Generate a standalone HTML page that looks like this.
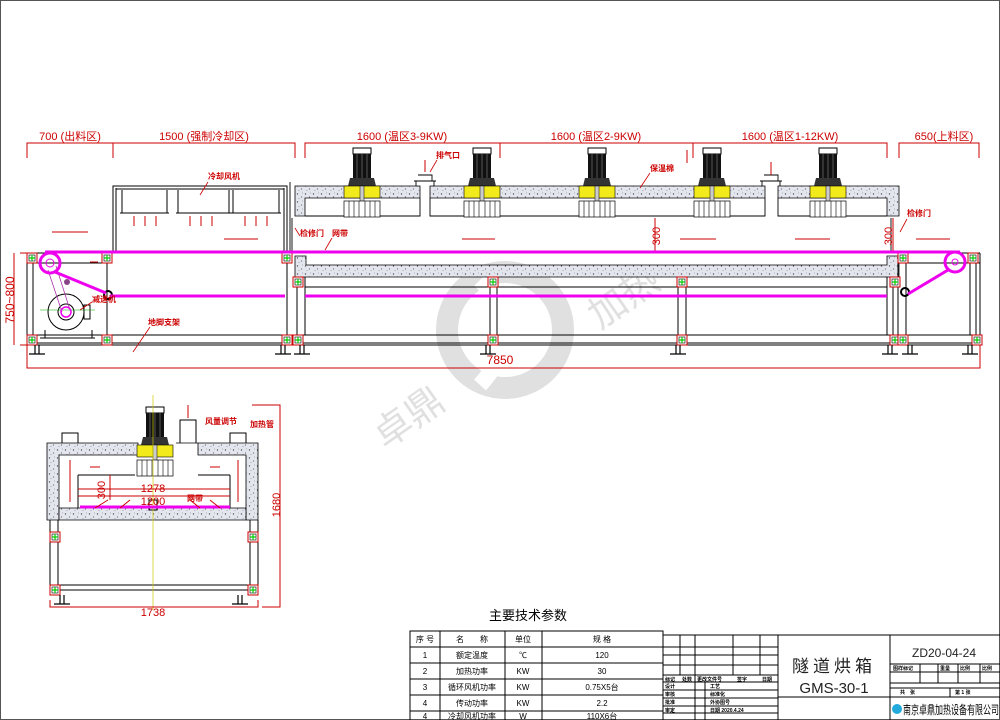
<!DOCTYPE html>
<html><head><meta charset="utf-8"><style>
html,body{margin:0;padding:0;background:#fff;}
svg{display:block;}
text{font-family:"Liberation Sans","Noto Sans CJK SC",sans-serif;}
</style></head><body>
<svg width="1000" height="720" viewBox="0 0 1000 720" xmlns="http://www.w3.org/2000/svg">
<defs>
<pattern id="ins" width="8" height="8" patternUnits="userSpaceOnUse">
<rect width="8" height="8" fill="#e4e6ee"/>
<circle cx="1.5" cy="2" r="0.7" fill="#556"/><circle cx="5.5" cy="5" r="0.6" fill="#667"/><circle cx="3" cy="6.5" r="0.5" fill="#88a"/><circle cx="6.5" cy="1" r="0.5" fill="#99a"/>
</pattern>
<g id="gsq"><rect x="-5" y="-5" width="10" height="10" fill="#fff" stroke="#c00" stroke-width="1"/><rect x="-3" y="-3" width="6" height="6" fill="none" stroke="#000" stroke-width="0.6"/><path d="M-3 0H3M0 -3V3" stroke="#0c0" stroke-width="1.2"/></g>
<g id="fan">
<rect x="-9" y="-38" width="18" height="6" fill="#fff" stroke="#000"/>
<rect x="-9" y="-32" width="18" height="24" fill="#111"/>
<path d="M-5 -32V-8M0 -32V-8M5 -32V-8" stroke="#888" stroke-width="0.6"/>
<path d="M-12 -8H12L14 0H-14Z" fill="#333"/>
<rect x="-18" y="0" width="36" height="12" fill="#f2ea1a" stroke="#000" stroke-width="0.6"/>
<rect x="-2" y="0" width="4" height="16" fill="#ccc" stroke="#000" stroke-width="0.5"/>
<rect x="-18" y="15" width="36" height="16" fill="#fff" stroke="#000" stroke-width="0.7"/>
<path d="M-13 15V31M-8 15V31M-3 15V31M3 15V31M8 15V31M13 15V31" stroke="#000" stroke-width="0.6"/>
</g>
<g id="foot"><path d="M-2 0V9M2 0V9M-8 9H8" stroke="#000" stroke-width="1.2" fill="none"/></g>
</defs>
<rect x="0.5" y="0.5" width="999" height="719" fill="#fff" stroke="#555"/>

<!-- watermark -->
<g opacity="0.22">
<circle cx="505" cy="330" r="58" fill="none" stroke="#777" stroke-width="22"/>
<path d="M480 280 Q530 330 480 385" stroke="#fff" stroke-width="16" fill="none"/>
<text x="600" y="330" font-size="38" fill="#777" transform="rotate(-35 600 330)">加热</text>
<text x="385" y="450" font-size="38" fill="#777" transform="rotate(-35 385 450)">卓鼎</text>
</g>

<!-- top dimensions -->
<g stroke="#c00" stroke-width="1" fill="none">
<path d="M27 158V143H295V158M113 143V158M305 158V143H887V158M500 143V158M693 143V158M899 158V143H979V158"/>
</g>
<g fill="#c00" font-size="11" text-anchor="middle">
<text x="70" y="140">700 (出料区)</text>
<text x="204" y="140">1500 (强制冷却区)</text>
<text x="402" y="140">1600 (温区3-9KW)</text>
<text x="596" y="140">1600 (温区2-9KW)</text>
<text x="790" y="140">1600 (温区1-12KW)</text>
<text x="944" y="140">650(上料区)</text>
</g>

<!-- cooling section -->
<g stroke="#000" stroke-width="1" fill="none">
<rect x="113" y="186" width="174" height="66"/>
<path d="M116 188V252M284 188V252M116 189H284"/>
<path d="M122 190V213H167V190M178 190V213H229V190M233 190V213H279V190M120 213H169M176 213H231M231 213H281"/>
</g>
<g stroke="#c00" stroke-width="1">
<path d="M134 216V226M145 216V226M156 216V226M190 216V226M201 216V226M212 216V226M245 216V226M256 216V226M267 216V226"/>
<path d="M52 232H88M224 239H258M462 239H495M680 239H716M795 239H830M916 239H950M90 262H98"/>
</g>

<!-- oven insulation -->
<path d="M295 186H420V198H305V216H295Z" fill="url(#ins)" stroke="#000" stroke-width="0.8"/>
<path d="M430 186H765V198H430Z" fill="url(#ins)" stroke="#000" stroke-width="0.8"/>
<path d="M778 186H899V216H887V198H778Z" fill="url(#ins)" stroke="#000" stroke-width="0.8"/>
<path d="M295 256H306V265H887V256H899V277H295Z" fill="url(#ins)" stroke="#000" stroke-width="0.8"/>
<g stroke="#000" fill="none" stroke-width="0.9">
<path d="M305 216H420V198M430 198V216H765V198M778 198V216H887"/>
<path d="M292 218V262M290 182V262M891 218V252"/>
<path d="M414 181H436M416 181V186M434 181V186M418 175H432V181"/>
<path d="M760 181H782M762 181V186M780 181V186M764 175H778V181"/>
</g>
<g stroke="#c00" stroke-width="1"><path d="M425 160V172M771 162V175M687 150V163"/></g>
<use href="#fan" x="362" y="186"/><use href="#fan" x="482" y="186"/><use href="#fan" x="597" y="186"/><use href="#fan" x="712" y="186"/><use href="#fan" x="828" y="186"/>
<g stroke="#c00" stroke-width="1"><path d="M655 218V252M893 218V252"/></g>
<text x="660" y="236" font-size="11" fill="#c00" transform="rotate(-90 660 236)" text-anchor="middle">300</text>
<text x="892" y="236" font-size="11" fill="#c00" transform="rotate(-90 892 236)" text-anchor="middle">300</text>

<!-- frame -->
<g stroke="#000" stroke-width="1" fill="none">
<path d="M27 253V345H980V253M27 253H287M899 253H980M27 263H112M899 263H980M27 335H980M27 343H980"/>
<path d="M33 263V335M107 263V335M287 253V335M297 277V335M305 277V335M490 277V335M497 277V335M678 277V335M686 277V335M887 277V335M893 277V335M898 263V335M906 263V335M970 263V335M976 263V335"/>
<path d="M305 287H887M305 297H887M112 297H285"/>
</g>
<use href="#gsq" x="32" y="258"/><use href="#gsq" x="107" y="258"/><use href="#gsq" x="287" y="258"/>
<use href="#gsq" x="903" y="258"/><use href="#gsq" x="973" y="258"/>
<use href="#gsq" x="298" y="282"/><use href="#gsq" x="493" y="282"/><use href="#gsq" x="682" y="282"/><use href="#gsq" x="895" y="282"/>
<use href="#gsq" x="32" y="340"/><use href="#gsq" x="107" y="340"/><use href="#gsq" x="287" y="340"/><use href="#gsq" x="298" y="340"/><use href="#gsq" x="493" y="340"/><use href="#gsq" x="682" y="340"/><use href="#gsq" x="895" y="340"/><use href="#gsq" x="903" y="340"/><use href="#gsq" x="977" y="340"/>
<use href="#foot" x="37" y="345"/><use href="#foot" x="283" y="345"/><use href="#foot" x="302" y="345"/><use href="#foot" x="488" y="345"/><use href="#foot" x="678" y="345"/><use href="#foot" x="890" y="345"/><use href="#foot" x="910" y="345"/><use href="#foot" x="970" y="345"/>

<!-- motor -->
<g stroke="#000" fill="none" stroke-width="1">
<circle cx="66" cy="312" r="18"/><circle cx="66" cy="312" r="8"/>
<path d="M45 330V338H92V330M40 338H95"/>
<rect x="84" y="305" width="6" height="14"/>
<circle cx="108" cy="295" r="4" stroke-width="2"/>
<circle cx="905" cy="292" r="4" stroke-width="2"/>
</g>
<circle cx="67" cy="282" r="3" fill="#848"/>
<path d="M40 310H95" stroke="#0a0" stroke-width="0.6"/>
<path d="M48 270L62 312M56 266L70 310" stroke="#a3a" stroke-width="0.8"/>

<!-- belts -->
<g stroke="#e0e" fill="none">
<path d="M45 252H960" stroke-width="3"/>
<path d="M110 296H285M305 296H887" stroke-width="3"/>
<circle cx="50" cy="263" r="10" stroke-width="3"/><circle cx="50" cy="263" r="4" stroke-width="1"/>
<circle cx="955" cy="262" r="10" stroke-width="3"/><circle cx="955" cy="262" r="3" stroke-width="1"/>
<path d="M55 272L106 293M908 294L948 270" stroke-width="3"/>
<circle cx="66" cy="312" r="5" stroke-width="1.5"/>
</g>

<!-- labels top -->
<g fill="#c00" font-size="8" font-weight="bold">
<text x="208" y="179">冷却风机</text>
<text x="436" y="158">排气口</text>
<text x="650" y="171">保温棉</text>
<text x="300" y="236">检修门</text>
<text x="332" y="236">网带</text>
<text x="907" y="216">检修门</text>
<text x="92" y="302">减速机</text>
<text x="148" y="325">地脚支架</text>
</g>
<g stroke="#c00" stroke-width="0.8"><path d="M200 195L208 182M430 172L437 160M640 188L650 173M295 228L300 236M325 250L332 238M900 232L907 219M80 310L92 302M133 352L150 327"/></g>

<!-- overall dims -->
<g stroke="#c00" fill="none" stroke-width="1">
<path d="M27 345V368H980V345M20 253H27M20 345H27M14 253V345"/>
</g>
<text x="500" y="364" font-size="12" fill="#c00" text-anchor="middle">7850</text>
<text x="14" y="300" font-size="12" fill="#c00" text-anchor="middle" transform="rotate(-90 14 300)">750~800</text>

<!-- section view -->
<path d="M47 443H138V455H59V520H47Z" fill="url(#ins)" stroke="#000" stroke-width="0.8"/>
<path d="M176 443H258V520H246V455H198V443" fill="url(#ins)" stroke="#000" stroke-width="0.8"/>
<path d="M59 508H246V520H59Z" fill="url(#ins)" stroke="#000" stroke-width="0.8"/>
<g stroke="#000" fill="none" stroke-width="1">
<path d="M62 443V433H78V443M230 443V433H246V443"/>
<path d="M78 475H135M198 475H230M78 475V508M230 475V508"/>
<path d="M180 443V420H196V443M182 420H194"/>
<path d="M50 520V595M58 520V595M250 520V595M258 520V595M50 585H258M50 590H258"/>
<rect x="149" y="500" width="8" height="10"/>
</g>
<use href="#fan" x="155" y="445"/>
<path d="M153 395V610" stroke="#cc0" stroke-width="0.7"/>
<use href="#gsq" x="55" y="537"/><use href="#gsq" x="253" y="537"/><use href="#gsq" x="55" y="590"/><use href="#gsq" x="253" y="590"/>
<use href="#foot" x="62" y="595"/><use href="#foot" x="240" y="595"/>
<path d="M80 507H230" stroke="#e0e" stroke-width="3"/>
<g stroke="#c00" fill="none" stroke-width="1">
<path d="M70 460V502M238 460V502M188 405V418M90 467H100M210 467H220M110 475V500M78 489H230M78 496H230M50 600V607H258V600M252 405H280V607H262"/>
<path d="M95 508L108 500M120 508L130 500M190 500L200 508M210 500L220 508"/>
</g>
<g fill="#c00" font-size="11" text-anchor="middle">
<text x="153" y="492">1278</text><text x="153" y="505">1200</text>
<text x="105" y="490" transform="rotate(-90 105 490)">300</text>
<text x="153" y="616">1738</text>
<text x="280" y="505" transform="rotate(-90 280 505)">1680</text>
</g>
<g fill="#c00" font-size="8" font-weight="bold"><text x="205" y="424">风量调节</text><text x="250" y="427">加热管</text><text x="187" y="501">网带</text></g>

<!-- parameters table -->
<text x="528" y="620" font-size="13" text-anchor="middle" fill="#000">主要技术参数</text>
<g stroke="#000" fill="none" stroke-width="1">
<path d="M410 720V631H663V720M410 647H663M410 663H663M410 679H663M410 695H663M410 711H663M440 631V720M505 631V720M542 631V720"/>
</g>
<g font-size="8" fill="#000" text-anchor="middle">
<text x="425" y="642">序 号</text><text x="472" y="642">名　　称</text><text x="523" y="642">单位</text><text x="602" y="642">规 格</text>
<text x="425" y="658">1</text><text x="472" y="658">额定温度</text><text x="523" y="658">℃</text><text x="602" y="658">120</text>
<text x="425" y="674">2</text><text x="472" y="674">加热功率</text><text x="523" y="674">KW</text><text x="602" y="674">30</text>
<text x="425" y="690">3</text><text x="472" y="690">循环风机功率</text><text x="523" y="690">KW</text><text x="602" y="690">0.75X5台</text>
<text x="425" y="706">4</text><text x="472" y="706">传动功率</text><text x="523" y="706">KW</text><text x="602" y="706">2.2</text>
<text x="425" y="719">4</text><text x="472" y="719">冷却风机功率</text><text x="523" y="719">W</text><text x="602" y="719">110X6台</text>
</g>

<!-- title block -->
<g stroke="#000" fill="none" stroke-width="1">
<path d="M663 635H1000M663 647H778M663 655H778M663 665H778M663 675H778M663 682H778M663 690H778M663 698H778M663 706H778M663 713H778"/>
<path d="M680 635V675M695 635V720M733 635V675M760 635V675M778 635V720M705 682V720M890 635V720M778 697H890"/>
<path d="M890 664H1000M890 672H1000M890 683H1000M890 688H1000M890 697H1000M920 664V683M938 664V683M958 664V683M980 664V683M950 688V697"/>
</g>
<g font-size="5" fill="#000" font-weight="bold">
<text x="665" y="681">标记</text><text x="682" y="681">处数</text><text x="697" y="681">更改文件号</text><text x="737" y="681">签字</text><text x="762" y="681">日期</text>
<text x="665" y="688">设计</text><text x="665" y="696">审核</text><text x="665" y="704">批准</text><text x="665" y="712">审定</text>
<text x="710" y="688">工艺</text><text x="710" y="696">标准化</text><text x="710" y="704">外协图号</text><text x="710" y="712">日期 2020.4.24</text>
<text x="893" y="670">图样标记</text><text x="940" y="670">重量</text><text x="960" y="670">比例</text><text x="982" y="670">比例</text>
<text x="900" y="694">共　张</text><text x="955" y="694">第 1 张</text>
</g>
<text x="834" y="672" font-size="17" text-anchor="middle" fill="#222" letter-spacing="4">隧道烘箱</text>
<text x="834" y="693" font-size="15" text-anchor="middle" fill="#222">GMS-30-1</text>
<text x="944" y="657" font-size="12" text-anchor="middle" fill="#222">ZD20-04-24</text>
<circle cx="897" cy="709" r="5" fill="#2ad"/>
<text x="903" y="714" font-size="12" fill="#000" textLength="96" lengthAdjust="spacingAndGlyphs">南京卓鼎加热设备有限公司</text>
</svg>
</body></html>
